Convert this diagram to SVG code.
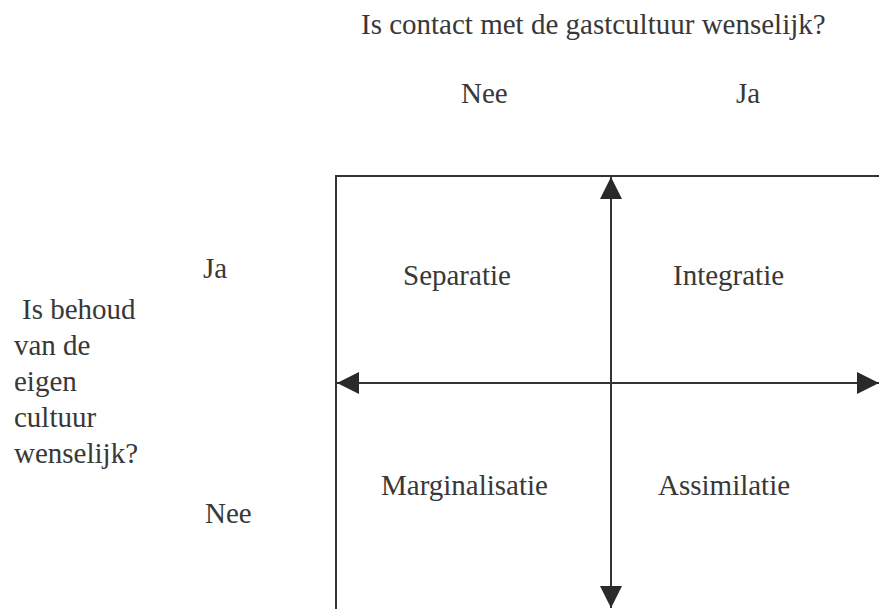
<svg xmlns="http://www.w3.org/2000/svg" width="879" height="609" viewBox="0 0 879 609">
<style>
text{font-family:"Liberation Serif","Times New Roman",serif;font-size:29px;fill:#383838}
.ln{stroke:#333;stroke-width:2;fill:none}
</style>
<defs>
<marker id="ah" markerUnits="userSpaceOnUse" markerWidth="22" markerHeight="22" viewBox="0 0 20 20" refX="20" refY="10" orient="auto-start-reverse">
<polygon points="0,0 20,10 0,20" fill="#2a2a2a"/>
</marker>
</defs>
<g id="labels">
<text x="361" y="34">Is contact met de gastcultuur wenselijk?</text>
<text x="461" y="103">Nee</text>
<text x="736" y="103">Ja</text>
<text x="203" y="278">Ja</text>
<text x="205" y="523">Nee</text>
<text x="22" y="319">Is behoud</text>
<text x="14" y="355">van de</text>
<text x="14" y="391">eigen</text>
<text x="14" y="427">cultuur</text>
<text x="14" y="463">wenselijk?</text>
</g>
<g id="frame">
<path class="ln" d="M879,176 H336 V609"/>
</g>
<g id="separatie"><text x="403" y="285">Separatie</text></g>
<g id="integratie"><text x="673" y="285">Integratie</text></g>
<g id="marginalisatie"><text x="381" y="495">Marginalisatie</text></g>
<g id="assimilatie"><text x="658" y="495">Assimilatie</text></g>
<g id="connectors">
<line class="ln" x1="611" y1="608" x2="611" y2="177" marker-start="url(#ah)" marker-end="url(#ah)"/>
<line class="ln" x1="337" y1="383" x2="879" y2="383" marker-start="url(#ah)" marker-end="url(#ah)"/>
</g>
</svg>
